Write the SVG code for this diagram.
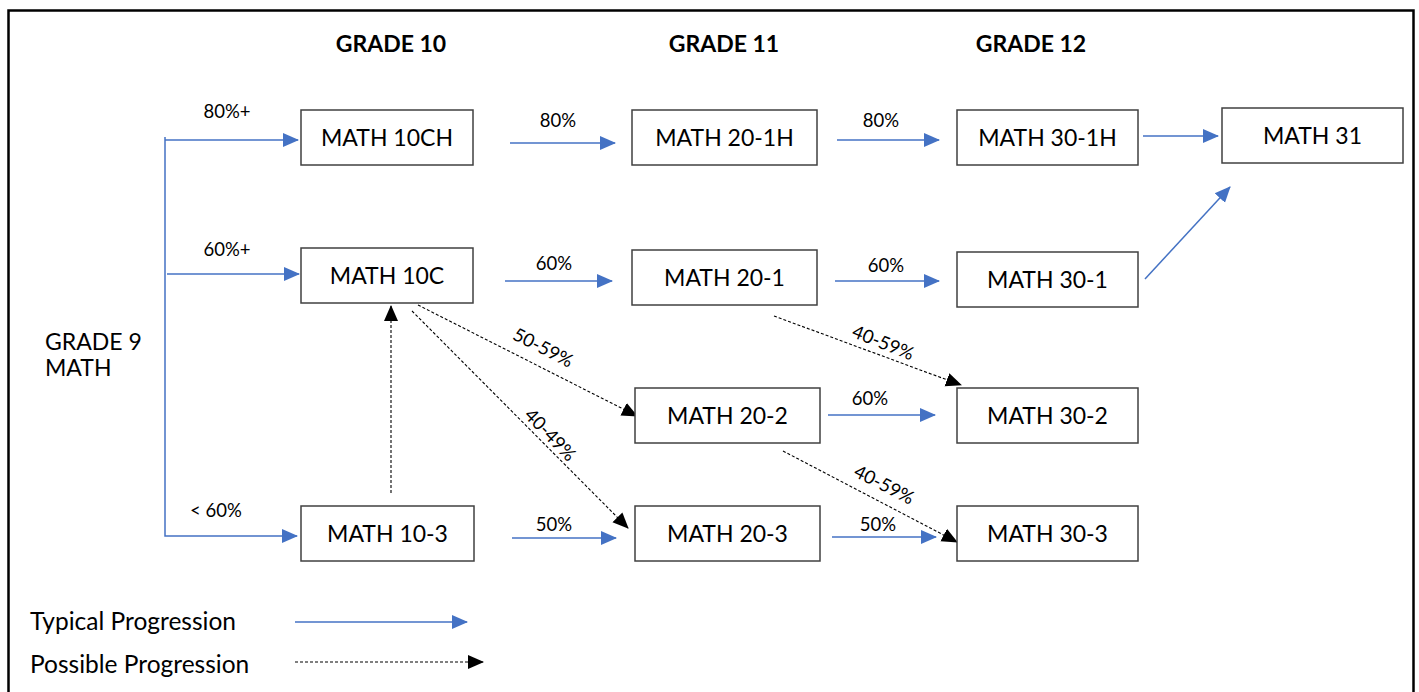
<svg xmlns="http://www.w3.org/2000/svg" width="1419" height="692" viewBox="0 0 1419 692">
<defs>
<style>
.box{fill:#fff;stroke:#404040;stroke-width:1.5}
.lbl{font-family:Lato,"Open Sans","Liberation Sans",sans-serif;font-size:23px;fill:#000;text-anchor:middle}
.hdr{font-family:Lato,"Open Sans","Liberation Sans",sans-serif;font-size:23px;font-weight:bold;fill:#000;text-anchor:middle}
.pct{font-family:Lato,"Open Sans","Liberation Sans",sans-serif;font-size:18.5px;fill:#000;text-anchor:middle}
.txt{font-family:Lato,"Open Sans","Liberation Sans",sans-serif;font-size:24.5px;fill:#000}
.typ{fill:none;stroke:#4472C4;stroke-width:1.5;marker-end:url(#ab)}
.pos{fill:none;stroke:#000;stroke-width:1.1;stroke-dasharray:3 2;marker-end:url(#ak)}
</style>
<marker id="ab" markerUnits="userSpaceOnUse" markerWidth="16" markerHeight="16" viewBox="0 0 16 14" refX="15" refY="7" orient="auto">
<path d="M0,0 L16,7 L0,14 Z" fill="#4472C4"/>
</marker>
<marker id="ak" markerUnits="userSpaceOnUse" markerWidth="16" markerHeight="16" viewBox="0 0 16 14" refX="15" refY="7" orient="auto">
<path d="M0,0 L16,7 L0,14 Z" fill="#000"/>
</marker>
</defs>
<rect x="0" y="0" width="1419" height="692" fill="#fff"/>
<rect x="8.5" y="10.5" width="1405" height="700" fill="none" stroke="#000" stroke-width="2.5"/>

<g id="headers">
<text class="hdr" x="391" y="52">GRADE 10</text>
<text class="hdr" x="724" y="52">GRADE 11</text>
<text class="hdr" x="1031" y="52">GRADE 12</text>
</g>

<g id="grade9">
<text class="txt" x="45" y="350" style="font-size:23px">GRADE 9</text>
<text class="txt" x="45" y="376" style="font-size:23px">MATH</text>
</g>

<g id="connectors">
<path class="typ" d="M165,137 V536 H297"/>
<path class="typ" d="M165,140 H298"/>
<path class="typ" d="M167,274 H299"/>
<path class="typ" d="M510,143 H615"/>
<path class="typ" d="M505,281 H612"/>
<path class="typ" d="M512,538 H616"/>
<path class="typ" d="M837,140 H939"/>
<path class="typ" d="M835,281 H939"/>
<path class="typ" d="M828,415 H935"/>
<path class="typ" d="M832,537 H936"/>
<path class="typ" d="M1143,136 H1218"/>
<path class="typ" d="M1145,279 L1230,187"/>
<path class="pos" d="M391,493 V306"/>
<path class="pos" d="M418,305 L637,416"/>
<path class="pos" d="M412,311 L628,528"/>
<path class="pos" d="M774,316 L961,385"/>
<path class="pos" d="M783,451 L957,542"/>
<text class="pct" x="227" y="118">80%+</text>
<text class="pct" x="227" y="256">60%+</text>
<text class="pct" x="216" y="517">&lt; 60%</text>
<text class="pct" x="558" y="127">80%</text>
<text class="pct" x="554" y="270">60%</text>
<text class="pct" x="554" y="531">50%</text>
<text class="pct" x="881" y="127">80%</text>
<text class="pct" x="886" y="272">60%</text>
<text class="pct" x="870" y="405">60%</text>
<text class="pct" x="878" y="531">50%</text>
<text class="pct" transform="translate(543,348) rotate(27)" x="0" y="6">50-59%</text>
<text class="pct" transform="translate(550,435) rotate(46)" x="0" y="6">40-49%</text>
<text class="pct" transform="translate(883,343) rotate(22)" x="0" y="6">40-59%</text>
<text class="pct" transform="translate(884,485) rotate(27)" x="0" y="6">40-59%</text>
</g>

<g id="n10ch"><rect class="box" x="301" y="110" width="172" height="55"/><text class="lbl" x="387" y="146">MATH 10CH</text></g>
<g id="n10c"><rect class="box" x="301" y="248" width="172" height="55"/><text class="lbl" x="387" y="284">MATH 10C</text></g>
<g id="n103"><rect class="box" x="301" y="506" width="173" height="55"/><text class="lbl" x="387.5" y="542">MATH 10-3</text></g>
<g id="n201h"><rect class="box" x="632" y="110" width="185" height="55"/><text class="lbl" x="724.5" y="146">MATH 20-1H</text></g>
<g id="n201"><rect class="box" x="632" y="250" width="185" height="55"/><text class="lbl" x="724.5" y="286">MATH 20-1</text></g>
<g id="n202"><rect class="box" x="635" y="388" width="185" height="55"/><text class="lbl" x="727.5" y="424">MATH 20-2</text></g>
<g id="n203"><rect class="box" x="635" y="506" width="185" height="55"/><text class="lbl" x="727.5" y="542">MATH 20-3</text></g>
<g id="n301h"><rect class="box" x="957" y="110" width="181" height="55"/><text class="lbl" x="1047.5" y="146">MATH 30-1H</text></g>
<g id="n301"><rect class="box" x="957" y="252" width="181" height="55"/><text class="lbl" x="1047.5" y="288">MATH 30-1</text></g>
<g id="n302"><rect class="box" x="957" y="388" width="181" height="55"/><text class="lbl" x="1047.5" y="424">MATH 30-2</text></g>
<g id="n303"><rect class="box" x="957" y="506" width="181" height="55"/><text class="lbl" x="1047.5" y="542">MATH 30-3</text></g>
<g id="n31"><rect class="box" x="1222" y="108" width="181" height="55"/><text class="lbl" x="1312.5" y="144">MATH 31</text></g>

<g id="legend">
<text class="txt" x="30" y="630">Typical Progression</text>
<text class="txt" x="30" y="673">Possible Progression</text>
<path class="typ" d="M295,622 H467"/>
<path class="pos" d="M295,662 H483"/>
</g>
</svg>
